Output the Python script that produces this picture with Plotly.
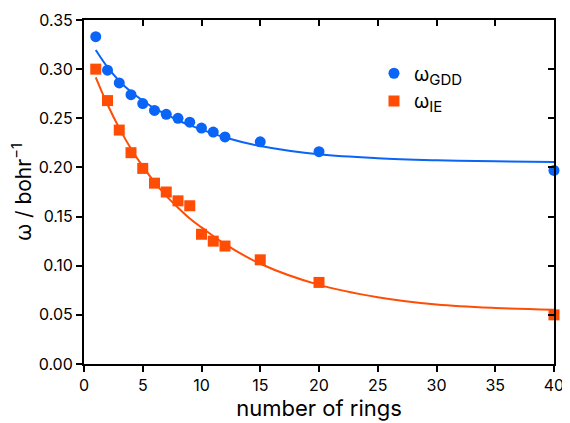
import plotly.graph_objects as go

# data points
rings = [1, 2, 3, 4, 5, 6, 7, 8, 9, 10, 11, 12, 15, 20, 40]
omega_gdd = [0.333, 0.299, 0.286, 0.274, 0.265, 0.258, 0.254, 0.250, 0.246,
             0.240, 0.236, 0.231, 0.226, 0.216, 0.197]
omega_ie = [0.300, 0.268, 0.238, 0.215, 0.199, 0.184, 0.175, 0.166, 0.161,
            0.132, 0.125, 0.120, 0.106, 0.083, 0.050]

# fitted curves
fit_x = [1, 2, 3, 4, 5, 6, 7, 8, 9, 10, 12, 15, 20, 25, 30, 35, 40]
fit_gdd = [0.3195, 0.302, 0.288, 0.277, 0.268, 0.260, 0.254, 0.248, 0.243,
           0.2385, 0.2305, 0.2218, 0.2133, 0.2093, 0.2073, 0.2062, 0.2055]
fit_ie = [0.2917, 0.264, 0.240, 0.219, 0.201, 0.185, 0.171, 0.159, 0.148,
          0.139, 0.122, 0.102, 0.0805, 0.068, 0.0605, 0.057, 0.0553]

x_ticks = [0, 5, 10, 15, 20, 25, 30, 35, 40]
y_ticks = [0.00, 0.05, 0.10, 0.15, 0.20, 0.25, 0.30, 0.35]

BLUE = "#0A64F5"
ORANGE = "#FF4D05"
FONT = "Inter, Liberation Sans, Arial, sans-serif"

fig = go.Figure()
fig.add_trace(go.Scatter(x=fit_x, y=fit_gdd, mode="lines", line=dict(color=BLUE, width=2, shape="spline"),
                         showlegend=False, hoverinfo="skip"))
fig.add_trace(go.Scatter(x=fit_x, y=fit_ie, mode="lines", line=dict(color=ORANGE, width=2, shape="spline"),
                         showlegend=False, hoverinfo="skip"))
fig.add_trace(go.Scatter(x=rings, y=omega_gdd, mode="markers",
                         name="ω<sub><span style='font-size:15px'>GDD</span></sub>",
                         marker=dict(color=BLUE, size=11, symbol="circle"), cliponaxis=False))
fig.add_trace(go.Scatter(x=rings, y=omega_ie, mode="markers",
                         name="ω<sub><span style='font-size:15px'>IE</span></sub>",
                         marker=dict(color=ORANGE, size=11, symbol="square"), cliponaxis=False))
# dummy trace for mirrored inside ticks
fig.add_trace(go.Scatter(x=[None], y=[None], xaxis="x2", yaxis="y2", showlegend=False, hoverinfo="skip"))

axis_common = dict(showgrid=False, zeroline=False, linecolor="black", linewidth=2,
                   tickcolor="black", ticklen=6, tickwidth=1.5, automargin=False,
                   tickfont=dict(size=16, color="black", family=FONT))

fig.update_layout(
    width=562, height=415,
    margin=dict(l=76, r=16, t=12, b=59),
    paper_bgcolor="white", plot_bgcolor="white",
    font=dict(family=FONT, color="black"),
    xaxis=dict(range=[0, 40], tickvals=x_ticks, ticks="outside", showline=True, mirror=True,
               title=dict(text="number of rings", font=dict(size=22, family=FONT), standoff=6),
               **axis_common),
    yaxis=dict(range=[0, 0.35], tickvals=y_ticks, tickformat=".2f", ticks="outside", showline=True, mirror=True,
               title=dict(text="ω / bohr<sup>−1</sup>", font=dict(size=21, family=FONT), standoff=6),
               **axis_common),
    xaxis2=dict(range=[0, 40], tickvals=x_ticks, ticks="inside", overlaying="x", side="top", anchor="y",
                showticklabels=False, showline=False, showgrid=False, zeroline=False, automargin=False,
                tickcolor="black", ticklen=6, tickwidth=1.5),
    yaxis2=dict(range=[0, 0.35], tickvals=y_ticks, ticks="inside", overlaying="y", side="right", anchor="x",
                showticklabels=False, showline=False, showgrid=False, zeroline=False, automargin=False,
                tickcolor="black", ticklen=6, tickwidth=1.5),
    legend=dict(x=0.617, y=0.90, xanchor="left", yanchor="top", bgcolor="rgba(0,0,0,0)",
                font=dict(size=19, family=FONT, color="black"), itemwidth=30, tracegroupgap=0),
)

fig.write_html("out.html")
